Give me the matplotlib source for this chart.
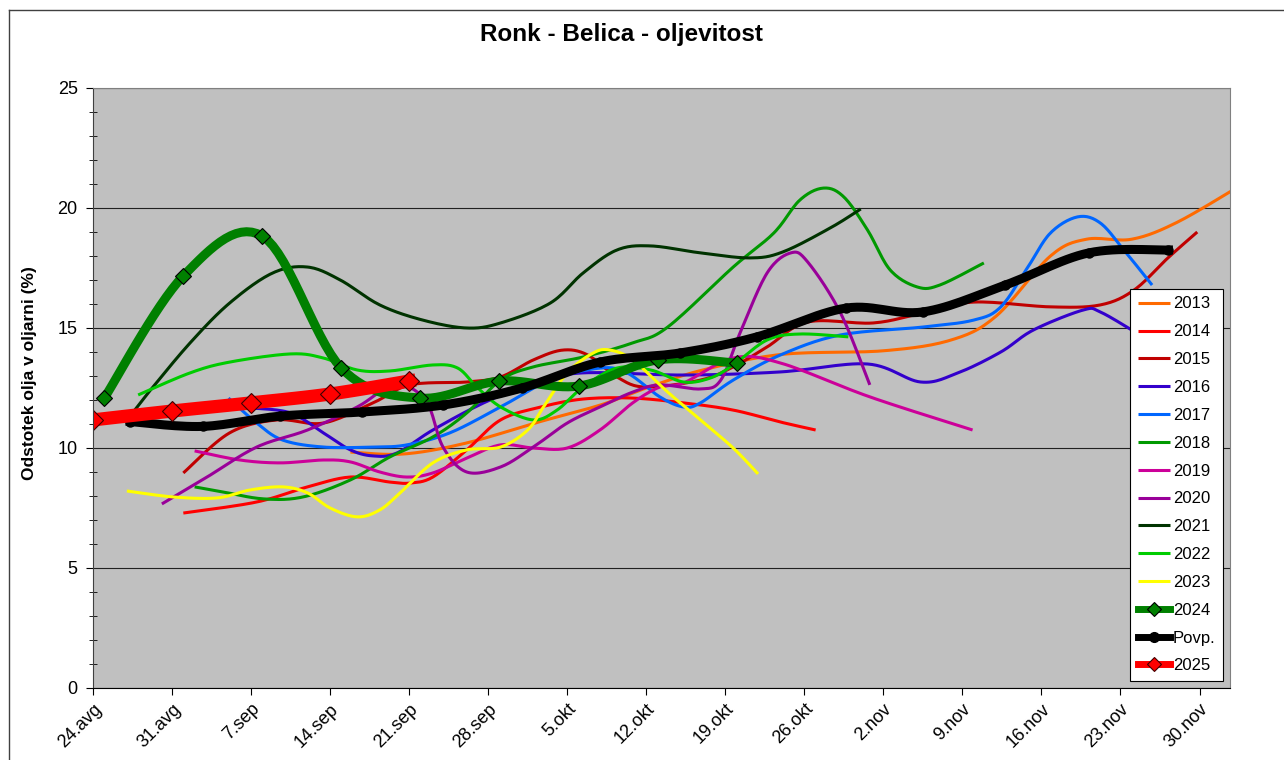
import matplotlib
matplotlib.use("Agg")
import matplotlib.pyplot as plt
import matplotlib.transforms as mtransforms
import numpy as np
from matplotlib.lines import Line2D

plt.rcParams['font.family'] = ['Liberation Sans', 'DejaVu Sans']

# days since 24 Aug, oil content (%)
x_2013 = [22.8, 27.5, 33.0, 39.6, 45.0, 49.0, 54.0, 61.0, 70.0, 76.0, 80.0, 84.8, 88.0, 92.0, 96.0, 101.5]
y_2013 = [9.83, 9.75, 10.2, 11.1, 11.8, 12.5, 13.25, 13.9, 14.05, 14.5, 15.5, 18.0, 18.7, 18.7, 19.4, 20.9]

x_2014 = [8.0, 14.5, 19.0, 22.8, 26.3, 28.1, 30.1, 33.1, 36.1, 39.6, 43.4, 47.8, 52.3, 56.7, 60.9, 64.0]
y_2014 = [7.29, 7.75, 8.38, 8.79, 8.58, 8.54, 8.79, 9.92, 11.17, 11.7, 12.04, 12.08, 11.88, 11.58, 11.08, 10.75]

x_2015 = [8.0, 12.1, 16.3, 20.4, 24.8, 28.1, 33.1, 36.1, 39.0, 41.6, 43.8, 46.4, 48.9, 53.8, 56.7,
          59.7, 63.3, 69.1, 73.5, 78.0, 84.8, 89.2, 92.2, 95.2, 97.8]
y_2015 = [8.96, 10.63, 11.17, 11.04, 11.88, 12.63, 12.75, 12.96, 13.67, 14.08, 13.88, 12.96, 12.54, 12.83, 13.38,
          14.21, 15.25, 15.21, 15.63, 16.08, 15.88, 15.96, 16.58, 17.92, 19.0]

x_2016 = [14.0, 17.5, 20.4, 22.8, 24.8, 26.9, 30.1, 34.6, 39.0, 43.4, 52.3, 60.9, 68.6, 73.3,
          76.6, 80.4, 83.3, 87.7, 89.2, 92.3]
y_2016 = [11.67, 11.46, 10.63, 9.92, 9.67, 9.79, 10.75, 11.88, 12.71, 13.13, 13.04, 13.17, 13.5, 12.75,
          13.13, 14.0, 14.92, 15.75, 15.67, 14.83]

x_2017 = [12.0, 14.5, 16.8, 20.4, 24.8, 27.8, 31.6, 36.1, 40.5, 44.9, 47.3, 50.2, 52.3, 53.8, 56.7,
          60.9, 66.2, 73.5, 78.0, 80.4, 82.8, 84.8, 87.2, 89.2, 91.3, 93.8]
y_2017 = [12.08, 11.04, 10.33, 10.04, 10.04, 10.13, 10.63, 11.71, 12.83, 13.33, 13.13, 12.13, 11.71, 11.88, 12.83,
          13.88, 14.71, 15.04, 15.33, 15.88, 17.54, 18.96, 19.63, 19.38, 18.25, 16.79]

x_2018 = [9.0, 11.5, 15.1, 18.6, 22.8, 26.3, 30.1, 33.1, 36.1, 39.0, 43.4, 47.8, 50.9, 56.7, 60.3,
          62.6, 64.7, 66.5, 68.6, 70.6, 73.0, 75.0, 78.9]
y_2018 = [8.38, 8.17, 7.88, 7.96, 8.67, 9.63, 10.46, 11.46, 12.83, 13.38, 13.79, 14.38, 15.04, 17.54, 18.96,
          20.33, 20.83, 20.46, 19.08, 17.42, 16.71, 16.79, 17.71]

x_2019 = [9.0, 13.0, 16.6, 20.4, 22.8, 25.4, 27.8, 30.1, 33.1, 36.1, 39.0, 42.0, 44.9, 47.8, 50.2,
          52.3, 56.7, 60.9, 68.8, 77.9]
y_2019 = [9.88, 9.5, 9.38, 9.5, 9.42, 9.0, 8.79, 8.96, 9.58, 10.13, 10.0, 10.0, 10.75, 11.88, 12.54,
          12.71, 13.75, 13.54, 12.13, 10.75]

x_2020 = [6.1, 10.1, 14.5, 19.0, 23.4, 25.7, 27.5, 29.6, 31.0, 33.1, 36.1, 39.0, 42.0, 44.9, 47.8,
          50.2, 53.8, 55.6, 57.3, 59.7, 61.8, 63.3, 66.2, 68.8]
y_2020 = [7.67, 8.79, 10.04, 10.75, 11.71, 12.42, 12.63, 11.88, 10.04, 9.0, 9.21, 10.04, 11.04, 11.71, 12.33,
          12.63, 12.46, 12.83, 14.79, 17.29, 18.13, 17.75, 15.63, 12.63]

x_2021 = [3.7, 5.1, 8.6, 12.1, 15.9, 19.0, 21.9, 25.4, 29.2, 33.1, 36.1, 40.5, 43.4, 46.4, 49.4,
          53.8, 58.2, 61.1, 65.3, 68.0]
y_2021 = [11.58, 12.42, 14.38, 16.04, 17.29, 17.54, 17.0, 15.96, 15.33, 15.0, 15.21, 16.04, 17.29, 18.25, 18.42,
          18.13, 17.92, 18.17, 19.17, 19.96]

x_2022 = [4.0, 8.6, 12.1, 17.5, 20.4, 23.4, 26.3, 30.1, 32.3, 34.0, 36.1, 39.0, 41.1, 43.4, 46.4,
          49.4, 52.3, 54.7, 56.7, 59.7, 62.6, 66.9]
y_2022 = [12.21, 13.13, 13.58, 13.92, 13.75, 13.25, 13.21, 13.46, 13.33, 12.54, 11.71, 11.17, 11.58, 12.54, 13.33,
          13.25, 12.75, 12.92, 13.46, 14.5, 14.75, 14.63]

x_2023 = [3.0, 7.1, 11.0, 13.9, 16.8, 19.0, 21.0, 23.4, 25.4, 27.2, 30.1, 33.1, 36.1, 38.5, 39.9,
          42.0, 44.3, 45.8, 47.8, 50.9, 53.8, 56.7, 58.9]
y_2023 = [8.21, 7.96, 7.92, 8.25, 8.38, 8.13, 7.5, 7.13, 7.42, 8.13, 9.38, 9.92, 10.04, 10.75, 11.71,
          13.13, 13.96, 14.08, 13.67, 12.33, 11.17, 10.0, 8.92]

x_2024 = [1, 8, 15, 22, 29, 36, 43, 50, 57]
y_2024 = [12.08, 17.17, 18.83, 13.33, 12.08, 12.79, 12.58, 13.67, 13.54]

x_povp = [3.3, 9.7, 16.6, 23.8, 31.0, 38.0, 44.9, 52.0, 58.8, 66.7, 73.5, 80.8, 88.2, 95.25]
y_povp = [11.1, 10.9, 11.33, 11.5, 11.79, 12.5, 13.58, 13.96, 14.63, 15.83, 15.67, 16.79, 18.13, 18.25]

x_2025 = [0, 7, 14, 21, 28]
y_2025 = [11.17, 11.54, 11.88, 12.25, 12.79]

tick_days = list(range(0, 99, 7))
tick_labels = ['24.avg', '31.avg', '7.sep', '14.sep', '21.sep', '28.sep', '5.okt', '12.okt',
               '19.okt', '26.okt', '2.nov', '9.nov', '16.nov', '23.nov', '30.nov']

STEPS = 16


def smooth(xs, ys):
    # Excel-like smoothed line (cubic Bezier through the points)
    pts = np.column_stack([xs, ys]).astype(float)
    n = len(pts)
    out = [pts[0]]
    t = np.linspace(0, 1, STEPS)[1:, None]
    for i in range(n - 1):
        p0 = pts[i - 1] if i > 0 else pts[i]
        p1, p2 = pts[i], pts[i + 1]
        p3 = pts[i + 2] if i + 2 < n else pts[i + 1]
        c1 = p1 + (p2 - p0) / 6
        c2 = p2 - (p3 - p1) / 6
        seg = (1 - t) ** 3 * p1 + 3 * (1 - t) ** 2 * t * c1 + 3 * (1 - t) * t ** 2 * c2 + t ** 3 * p2
        out.extend(seg)
    out = np.array(out)
    return out[:, 0], out[:, 1]


fig = plt.figure(figsize=(12.84, 7.60), dpi=100)
ax = fig.add_axes([93 / 1284, 1 - 688 / 760, (1230 - 93) / 1284, 600 / 760])
ax.set_facecolor('#C0C0C0')

series = [
    ('2013', x_2013, y_2013, '#FF6A00'),
    ('2014', x_2014, y_2014, '#FF0000'),
    ('2015', x_2015, y_2015, '#C00000'),
    ('2016', x_2016, y_2016, '#3300CC'),
    ('2017', x_2017, y_2017, '#0066FF'),
    ('2018', x_2018, y_2018, '#009900'),
    ('2019', x_2019, y_2019, '#CC0099'),
    ('2020', x_2020, y_2020, '#990099'),
    ('2021', x_2021, y_2021, '#003300'),
    ('2022', x_2022, y_2022, '#00CC00'),
    ('2023', x_2023, y_2023, '#FFFF00'),
]

for name, xs, ys, col in series:
    sx, sy = smooth(xs, ys)
    ax.plot(sx, sy, color=col, lw=2.2, label=name, solid_capstyle='butt')

mk = lambda xs: [i * (STEPS - 1) for i in range(len(xs))]

sx, sy = smooth(x_2024, y_2024)
ax.plot(sx, sy, color='#008000', lw=6.5, marker='D', markevery=mk(x_2024), ms=8,
        mfc='#008000', mec='black', mew=0.8, label='2024')
sx, sy = smooth(x_povp, y_povp)
ax.plot(sx, sy, color='black', lw=6.5, marker='o', markevery=mk(x_povp), ms=6.5,
        mfc='black', mec='black', label='Povp.')
sx, sy = smooth(x_2025, y_2025)
ax.plot(sx, sy, color='#FF0000', lw=9.5, marker='D', markevery=mk(x_2025), ms=10,
        mfc='#FF0000', mec='#400000', mew=0.8, label='2025')

ax.set_xlim(0, 100.7)
ax.set_ylim(0, 25)
ax.set_xticks(tick_days)
ax.set_xticklabels(tick_labels, rotation=45, ha='right', va='top', fontsize=13,
                   rotation_mode='anchor')
offset = mtransforms.ScaledTranslation(3 / 72, -4 / 72, fig.dpi_scale_trans)
for lab in ax.get_xticklabels():
    lab.set_transform(lab.get_transform() + offset)
ax.set_yticks(range(0, 26, 5))
ax.set_yticks(range(0, 26), minor=True)
ax.tick_params(axis='y', labelsize=13, length=5, direction='out', pad=6)
ax.tick_params(axis='y', which='minor', length=6, direction='inout')
ax.tick_params(axis='x', length=5, direction='out', pad=4)
ax.grid(axis='y', which='major', color='#202020', lw=0.8)
ax.set_axisbelow(True)
for s in ['top', 'right']:
    ax.spines[s].set_color('#808080')
ax.spines['left'].set_color('#404040')
ax.spines['bottom'].set_color('black')

leg = ax.legend(loc='upper right', bbox_to_anchor=(1223 / 1284, 1 - 289 / 760),
                bbox_transform=fig.transFigure, borderaxespad=0, fontsize=12,
                frameon=True, fancybox=False, framealpha=1, edgecolor='black',
                labelspacing=0.77, handlelength=1.9, handletextpad=0.2,
                borderpad=0.45, numpoints=1)
leg.get_frame().set_linewidth(0.8)
for h in leg.legend_handles:
    if h.get_linewidth() > 5:
        h.set_linewidth(5)
        h.set_markersize(7)

fig.text(621 / 1284, 1 - 34 / 760, 'Ronk - Belica - oljevitost', ha='center', va='center',
         fontsize=17.5, fontweight='bold')
fig.text(30 / 1284, 1 - 373 / 760, 'Odstotek olja v oljarni (%)', rotation=90,
         ha='center', va='center', fontsize=12.5, fontweight='bold')

# chart border (left and top edges visible)
fig.add_artist(Line2D([9 / 1284, 9 / 1284], [0, 1 - 10 / 760], transform=fig.transFigure,
                      color='#404040', lw=1))
fig.add_artist(Line2D([9 / 1284, 1], [1 - 10 / 760, 1 - 10 / 760], transform=fig.transFigure,
                      color='#404040', lw=1))

fig.savefig('out.png', dpi=100)
